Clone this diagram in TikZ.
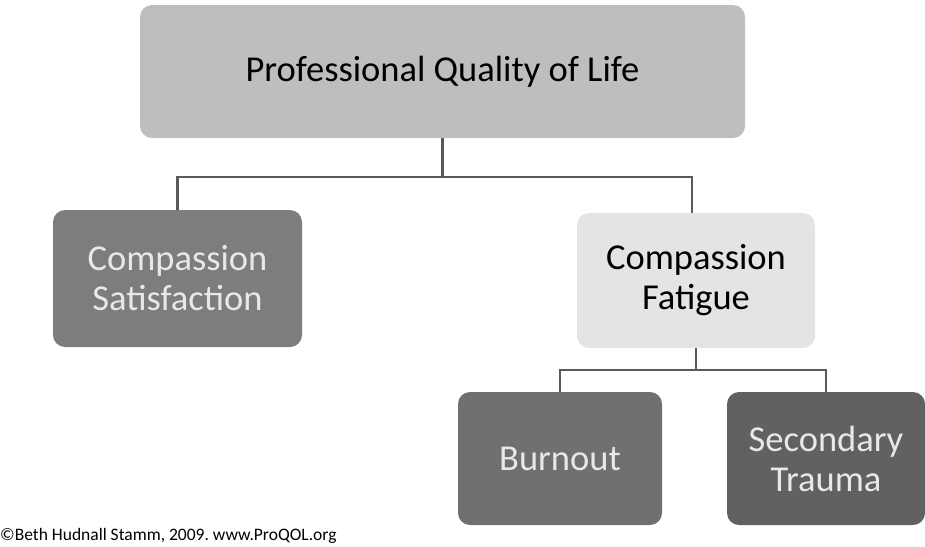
\documentclass[tikz,border=0pt]{standalone}
\usepackage{fontspec}
\setmainfont{Carlito}

\definecolor{boxtop}{HTML}{BEBEBE}
\definecolor{boxsat}{HTML}{7D7D7D}
\definecolor{boxfat}{HTML}{E4E4E4}
\definecolor{boxburn}{HTML}{707070}
\definecolor{boxtrauma}{HTML}{616161}
\definecolor{linkgray}{HTML}{5A5A5A}
\definecolor{lighttext}{HTML}{E8E8E8}

\newcommand{\JoinTop}{177}
\newcommand{\JoinLow}{370}

\begin{document}
\begin{tikzpicture}[
  x = 1pt, y = -1pt,
  box/.style={rounded corners=12pt,inner sep=0pt,align=center,font=\fontsize{36.5}{40}\selectfont},
  darkbox/.style={box,text=lighttext},
  link/.style={draw=linkgray,line width=2.4pt}
  ]

	\useasboundingbox (0,0) rectangle (925,546);

	%draw the boxes
	\node[box,fill=boxtop,minimum width=605pt,minimum height=133pt] (pqol) at (442.5,71.5) {Professional Quality of Life};
	\node[darkbox,fill=boxsat,minimum width=249pt,minimum height=137pt] (sat) at (177.5,278.5) {Compassion\\Satisfaction};
	\node[box,fill=boxfat,minimum width=238pt,minimum height=135pt] (fat) at (696,280.5) {Compassion\\Fatigue};
	\node[darkbox,fill=boxburn,minimum width=204pt,minimum height=133pt] (burn) at (560,458.5) {Burnout};
	\node[darkbox,fill=boxtrauma,minimum width=198pt,minimum height=133pt] (trauma) at (826,458.5) {Secondary\\Trauma};

	%draw the links
	\coordinate (jtop) at (pqol.south |- 0,\JoinTop);
	\coordinate (jlow) at (fat.south |- 0,\JoinLow);
	\draw[link] (pqol.south) -- (jtop);
	\draw[link] (jtop) -| (sat.north);
	\draw[link] (jtop) -| ([xshift=-4pt]fat.north);
	\draw[link] (fat.south) -- (jlow);
	\draw[link] (jlow) -| (burn.north);
	\draw[link] (jlow) -| (trauma.north);

	\node[anchor=west,inner sep=0pt,font=\fontsize{17.5}{20}\selectfont\frenchspacing] (credit) at (0,536) {©Beth Hudnall Stamm, 2009. www.ProQOL.org};

\end{tikzpicture}
\end{document}
